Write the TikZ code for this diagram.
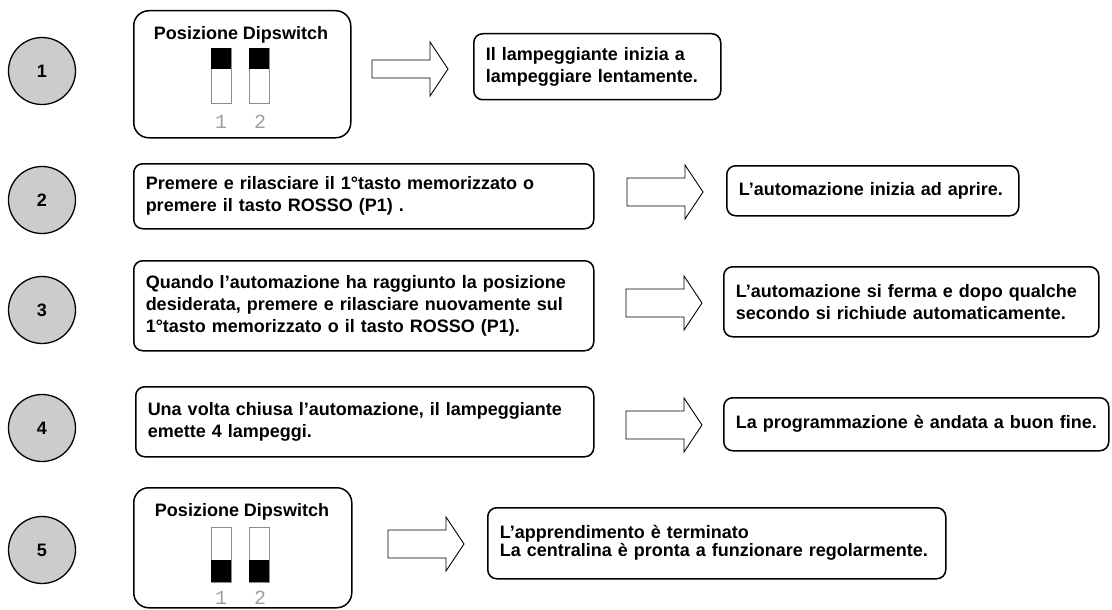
\documentclass[tikz,border=0pt]{standalone}
\usepackage{fontspec}
\setmainfont{Liberation Sans}
\setmonofont{Liberation Mono}
\usetikzlibrary{positioning}
\definecolor{grigio}{gray}{0.8}
\definecolor{grigioleva}{gray}{0.55}
\definecolor{grigiocifra}{gray}{0.62}

\begin{document}
\begin{tikzpicture}[x=1pt, y=-1pt,
		numero/.style={circle, draw, line width=1.3pt, fill=grigio, minimum size=67pt, inner sep=0pt, font=\fontsize{18}{22}\selectfont\bfseries},
		riquadro/.style={draw, line width=1.5pt, rounded corners=9pt, anchor=north west, align=left, inner xsep=12pt, inner ysep=0pt, font=\fontsize{18}{22}\selectfont\bfseries},
		dipbox/.style={draw, line width=1.5pt, rounded corners=15pt, anchor=north west, inner sep=0pt},
		titolo/.style={inner sep=0pt, font=\fontsize{18}{22}\selectfont\bfseries},
		cifra/.style={inner sep=0pt, text=grigiocifra, font=\fontsize{20}{20}\selectfont\ttfamily},
		leva/.style={draw=grigioleva, line width=0.8pt},
		freccia/.style={draw, line width=0.9pt, line join=miter}]
		\useasboundingbox (0,0) rectangle (1112,610);
		% numeri dei passi
		\node[numero] (c1) at (42,71) {1};
		\node[numero] (c2) at (42,200) {2};
		\node[numero] (c3) at (42,310) {3};
		\node[numero] (c4) at (42,428) {4};
		\node[numero] (c5) at (42,550) {5};
		% passo 1
		\node[dipbox, minimum width=217pt, minimum height=127pt] (dip1) at (133,10) {};
		\node[titolo] (tit1) at (241,35) {Posizione Dipswitch};
		\foreach \x in {211,249} \draw[leva] (\x,48) rectangle ++(20,55);
		\foreach \x in {211,249} \fill (\x,48) rectangle ++(20,21);
		\node[cifra] (d1a) at (221,122) {1};
		\node[cifra] (d1b) at (260,122) {2};
		\node[riquadro, text width=223pt, minimum height=66pt] (r1) at (473,33) {Il lampeggiante inizia a\\lampeggiare lentamente.};
		% passi 2-4
		\node[riquadro, text width=436pt, minimum height=65pt] (p2) at (133,163) {\mbox{Premere e rilasciare il 1°tasto memorizzato o}\\premere il tasto ROSSO (P1) .};
		\node[riquadro, text width=268pt, minimum height=50pt] (r2) at (726,165) {\mbox{L’automazione inizia ad aprire.}};
		\node[riquadro, text width=436pt, minimum height=90pt] (p3) at (133,260) {\mbox{Quando l’automazione ha raggiunto la posizione}\\\mbox{desiderata, premere e rilasciare nuovamente sul}\\\mbox{1°tasto memorizzato o il tasto ROSSO (P1).}};
		\node[riquadro, text width=351pt, minimum height=70pt] (r3) at (723,266) {\mbox{L’automazione si ferma e dopo qualche}\\\mbox{secondo si richiude automaticamente.}};
		\node[riquadro, text width=434pt, minimum height=70pt] (p4) at (135,386) {\mbox{Una volta chiusa l’automazione, il lampeggiante}\\emette 4 lampeggi.};
		\node[riquadro, text width=361pt, minimum height=53pt] (r4) at (723,397) {\mbox{La programmazione è andata a buon fine.}};
		% passo 5
		\node[dipbox, minimum width=218pt, minimum height=120pt] (dip5) at (133,487) {};
		\node[titolo] (tit5) at (242,512) {Posizione Dipswitch};
		\foreach \x in {211,249} \draw[leva] (\x,527) rectangle ++(20,55);
		\foreach \x in {211,249} \fill (\x,560) rectangle ++(20,22);
		\node[cifra] (d5a) at (221,598) {1};
		\node[cifra] (d5b) at (260,598) {2};
		\node[riquadro, text width=434pt, minimum height=71pt, font=\fontsize{18}{18}\selectfont\bfseries] (r5) at (487,507) {\mbox{L’apprendimento è terminato}\\\mbox{La centralina è pronta a funzionare regolarmente.}};
		% frecce
		\foreach \x/\y/\s in {372/69/9, 627/192/14, 626/303/14, 626/425/14, 388/544/14}
			\draw[freccia] (\x,\y-\s) -- ++(58,0) -- ++(0,\s-27) -- ++(18,27) -- ++(-18,27) -- ++(0,\s-27) -- ++(-58,0) -- cycle;
	\end{tikzpicture}
\end{document}
